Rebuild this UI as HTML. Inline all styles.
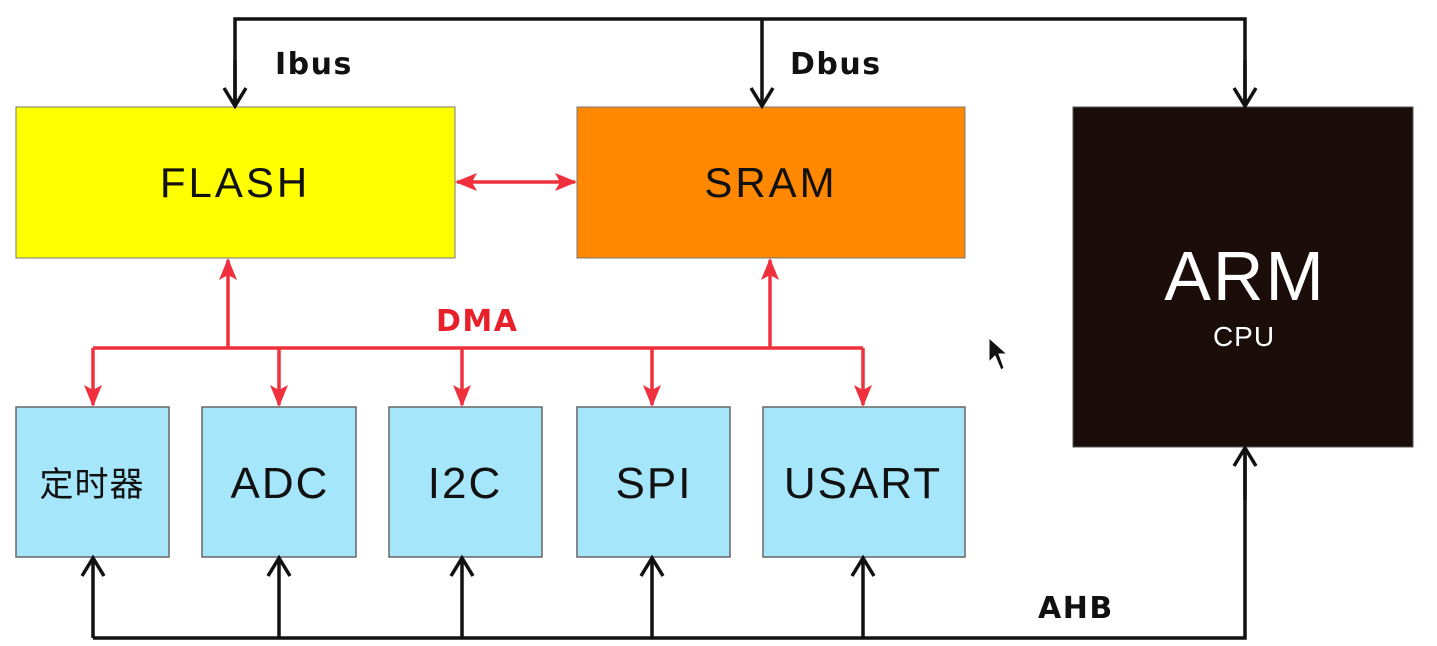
<!DOCTYPE html>
<html><head><meta charset="utf-8"><style>
html,body{margin:0;padding:0;background:#fff;width:1437px;height:646px;overflow:hidden}
svg{display:block}
</style></head><body>
<svg width="1437" height="646" viewBox="0 0 1437 646" xmlns="http://www.w3.org/2000/svg">
<defs>
<marker id="blk" markerWidth="24" markerHeight="26" refX="20" refY="13" orient="auto" markerUnits="userSpaceOnUse">
<path d="M2,2 L20,13 L2,24" fill="none" stroke="#111" stroke-width="3.5"/>
</marker>
<marker id="red" markerWidth="22" markerHeight="18" refX="20" refY="9" orient="auto" markerUnits="userSpaceOnUse">
<path d="M0,0 L22,9 L0,18 L5,9 Z" fill="#f0303c"/>
</marker>
</defs>
<rect x="16" y="107" width="439" height="151" fill="#ffff00" stroke="#777" stroke-width="1"/>
<rect x="577" y="107" width="388" height="151" fill="#ff8800" stroke="#777" stroke-width="1"/>
<rect x="1073" y="107" width="340" height="340" fill="#1a0d0a" stroke="#555" stroke-width="1"/>
<g fill="#a6e6fb" stroke="#666" stroke-width="1.5">
<rect x="16" y="407" width="153" height="150"/>
<rect x="202" y="407" width="154" height="150"/>
<rect x="389" y="407" width="153" height="150"/>
<rect x="577" y="407" width="153" height="150"/>
<rect x="763" y="407" width="202" height="150"/>
</g>
<g stroke="#111" stroke-width="3.5" fill="none">
<polyline points="235,105 235,19 1245,19 1245,105"/>
<line x1="235" y1="60" x2="235" y2="106" marker-end="url(#blk)"/>
<line x1="762" y1="19" x2="762" y2="106" marker-end="url(#blk)"/>
<line x1="1245" y1="60" x2="1245" y2="106" marker-end="url(#blk)"/>
<polyline points="93,638 1245,638 1245,449"/>
<line x1="1245" y1="500" x2="1245" y2="448" marker-end="url(#blk)"/>
<line x1="93" y1="638" x2="93" y2="558" marker-end="url(#blk)"/>
<line x1="279" y1="638" x2="279" y2="558" marker-end="url(#blk)"/>
<line x1="462" y1="638" x2="462" y2="558" marker-end="url(#blk)"/>
<line x1="652" y1="638" x2="652" y2="558" marker-end="url(#blk)"/>
<line x1="863" y1="638" x2="863" y2="558" marker-end="url(#blk)"/>
</g>
<g stroke="#f0303c" stroke-width="3.5" fill="none">
<line x1="516" y1="182" x2="457" y2="182" marker-end="url(#red)"/>
<line x1="516" y1="182" x2="575" y2="182" marker-end="url(#red)"/>
<line x1="93" y1="348" x2="863" y2="348"/>
<line x1="228" y1="348" x2="228" y2="260" marker-end="url(#red)"/>
<line x1="770" y1="348" x2="770" y2="260" marker-end="url(#red)"/>
<line x1="93" y1="348" x2="93" y2="405" marker-end="url(#red)"/>
<line x1="279" y1="348" x2="279" y2="405" marker-end="url(#red)"/>
<line x1="462" y1="348" x2="462" y2="405" marker-end="url(#red)"/>
<line x1="652" y1="348" x2="652" y2="405" marker-end="url(#red)"/>
<line x1="863" y1="348" x2="863" y2="405" marker-end="url(#red)"/>
</g>
<g font-family="'DejaVu Sans','Liberation Sans',sans-serif" font-weight="bold" font-size="30" fill="#111" letter-spacing="1.5">
<text x="275" y="74">Ibus</text>
<text x="790" y="74">Dbus</text>
<text x="1038" y="618">AHB</text>
<text x="436" y="331" fill="#e8202a">DMA</text>
</g>
<g font-family="'Liberation Sans','Noto Sans CJK SC',sans-serif" text-anchor="middle" fill="#111">
<text x="235" y="197" font-size="42" letter-spacing="3">FLASH</text>
<text x="771" y="197" font-size="42" letter-spacing="3">SRAM</text>
<text x="1245" y="300" font-size="70" fill="#fff" letter-spacing="2">ARM</text>
<text x="1244" y="346" font-size="28" fill="#fff" letter-spacing="1">CPU</text>
<text x="92" y="496" font-size="34" letter-spacing="1">定时器</text>
<text x="280" y="498" font-size="44" letter-spacing="2">ADC</text>
<text x="465" y="498" font-size="44" letter-spacing="2">I2C</text>
<text x="654" y="498" font-size="44" letter-spacing="2">SPI</text>
<text x="863" y="498" font-size="44" letter-spacing="2">USART</text>
</g>
<path d="M989,338 L989,362 L995,356 L1001,370 L1004,368 L999,354 L1007,354 Z" fill="#111" stroke="#fff" stroke-width="1"/>
</svg>
</body></html>
